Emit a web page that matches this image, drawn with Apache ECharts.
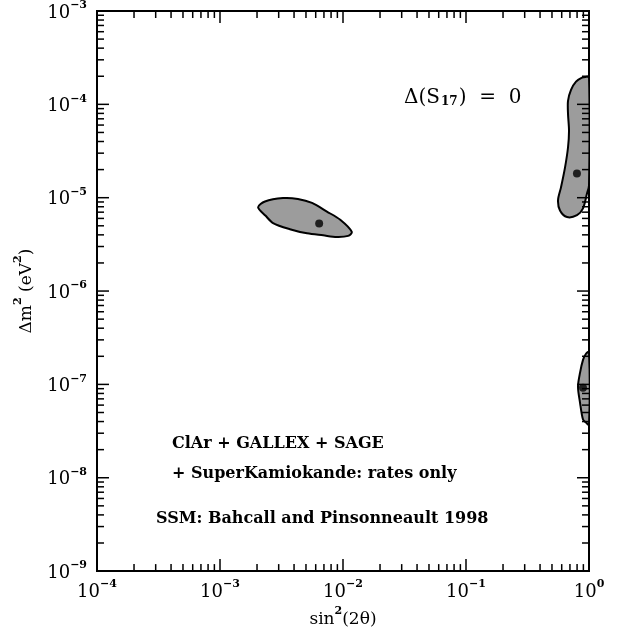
<!DOCTYPE html>
<html>

<head>
    <meta charset="utf-8">
    <title>ECharts</title>
    <script src="https://cdn.jsdelivr.net/npm/echarts@6/dist/echarts.min.js"></script>
</head>

<body style="margin:0;background:#fff">
    <div id="main" style="width: 628px;height:633px;"></div>
    <script type="text/javascript">
        // axis decades
        var xDecades = [1e-4, 1e-3, 1e-2, 1e-1, 1];
        var yDecades = [1e-9, 1e-8, 1e-7, 1e-6, 1e-5, 1e-4, 1e-3];

        // allowed regions, [sin^2(2theta), dm^2]
        var regionMid = [
            [2.04e-3, 7.9e-6], [2.32e-3, 9.1e-6], [3.25e-3, 9.9e-6], [4.3e-3, 9.7e-6],
            [5.6e-3, 8.8e-6], [7.4e-3, 7.1e-6], [9.5e-3, 5.8e-6], [1.18e-2, 4.3e-6],
            [1.10e-2, 3.9e-6], [8.9e-3, 3.8e-6], [6.9e-3, 3.95e-6], [5.1e-3, 4.15e-6],
            [3.7e-3, 4.6e-6], [2.70e-3, 5.35e-6], [2.35e-3, 6.4e-6]
        ];
        var regionTop = [
            [0.945, 1.97e-4], [0.877, 1.93e-4], [0.784, 1.75e-4], [0.714, 1.43e-4],
            [0.675, 1.09e-4], [0.675, 7.9e-5], [0.688, 5.2e-5], [0.675, 3.45e-5],
            [0.638, 2.1e-5], [0.592, 1.29e-5], [0.560, 9.4e-6], [0.581, 7.3e-6],
            [0.663, 6.2e-6], [0.799, 6.5e-6], [0.894, 7.7e-6], [0.963, 1.11e-5],
            [1.0, 1.35e-5], [1.0, 1.97e-4]
        ];
        var regionLow = [
            [1.0, 2.23e-7], [0.945, 2.13e-7], [0.894, 1.83e-7], [0.845, 1.33e-7],
            [0.814, 9.45e-8], [0.845, 6.4e-8], [0.894, 4.2e-8], [0.945, 3.9e-8],
            [1.0, 3.7e-8]
        ];
        // best fit points
        var bestFit = [[6.4e-3, 5.3e-6], [0.798, 1.82e-5], [0.894, 9.2e-8]];

        var FONT = "'DejaVu Serif', serif";
        var X_MIN = 1e-4, X_MAX = 1, Y_MIN = 1e-9, Y_MAX = 1e-3;

        // tick positions 1..9 x each decade
        function minorList(decades) {
            var out = [];
            for (var i = 0; i < decades.length - 1; i++) {
                for (var k = 1; k < 10; k++) out.push(decades[i] * k);
            }
            out.push(decades[decades.length - 1]);
            return out;
        }
        var xTicks = minorList(xDecades).map(function (v) { return [v, Y_MIN]; });
        var yTicks = minorList(yDecades).map(function (v) { return [X_MIN, v]; });

        function isDecade(v) {
            var e = Math.log10(v);
            return Math.abs(e - Math.round(e)) < 1e-6;
        }

        function tickLine(x1, y1, x2, y2) {
            return {
                type: 'line',
                shape: { x1: x1, y1: y1, x2: x2, y2: y2 },
                style: { stroke: '#000', lineWidth: 1.5 }
            };
        }

        function renderXTick(params, api) {
            var v = api.value(0);
            var len = isDecade(v) ? 12 : 7;
            var b = api.coord([v, Y_MIN]);
            var t = api.coord([v, Y_MAX]);
            return {
                type: 'group',
                children: [tickLine(b[0], b[1], b[0], b[1] - len), tickLine(t[0], t[1], t[0], t[1] + len)]
            };
        }

        function renderYTick(params, api) {
            var v = api.value(1);
            var len = isDecade(v) ? 12 : 7;
            var l = api.coord([X_MIN, v]);
            var r = api.coord([X_MAX, v]);
            return {
                type: 'group',
                children: [tickLine(l[0], l[1], l[0] + len, l[1]), tickLine(r[0], r[1], r[0] - len, r[1])]
            };
        }

        function regionSeries(pts) {
            return {
                type: 'custom',
                data: pts,
                clip: true,
                silent: true,
                z: 3,
                renderItem: function (params, api) {
                    if (params.dataIndex !== 0) return;
                    var poly = pts.map(function (p) { return api.coord(p); });
                    return {
                        type: 'polygon',
                        shape: { points: poly, smooth: 0.3 },
                        style: { fill: '#9c9c9c', stroke: '#000', lineWidth: 2 }
                    };
                }
            };
        }

        var powRich = {
            a: { fontFamily: FONT, fontSize: 17, color: '#000', lineHeight: 22, verticalAlign: 'bottom' },
            b: { fontFamily: FONT, fontSize: 18, color: '#000', lineHeight: 22, verticalAlign: 'bottom' },
            s: { fontFamily: FONT, fontSize: 11, fontWeight: 'bold', color: '#000', lineHeight: 12, verticalAlign: 'top' }
        };

        function powLabel(v) {
            var e = Math.round(Math.log10(v));
            return '{b|10}{s|' + (e < 0 ? '\u2212' + (-e) : e) + '}';
        }

        var myChart = echarts.init(document.getElementById('main'));

        myChart.setOption({
            backgroundColor: '#fff',
            animation: false,
            grid: {
                left: 97, top: 10, width: 492, height: 562,
                show: true, borderColor: '#000', borderWidth: 2
            },
            xAxis: {
                type: 'log', logBase: 10, min: X_MIN, max: X_MAX, splitNumber: 4,
                axisLine: { show: false }, axisTick: { show: false }, splitLine: { show: false },
                axisLabel: { margin: 8, formatter: powLabel, rich: powRich },
                name: '{a|sin}{s|2}{a|(2\u03b8)}',
                nameLocation: 'middle', nameGap: 33,
                nameTextStyle: { rich: powRich }
            },
            yAxis: {
                type: 'log', logBase: 10, min: Y_MIN, max: Y_MAX, splitNumber: 6,
                axisLine: { show: false }, axisTick: { show: false }, splitLine: { show: false },
                axisLabel: { margin: 10, formatter: powLabel, rich: powRich },
                name: '{a|\u0394m}{s|2}{a| (eV}{s|2}{a|)}',
                nameLocation: 'middle', nameGap: 62,
                nameTextStyle: { rich: powRich }
            },
            graphic: [
                {
                    type: 'text', left: 404, top: 86,
                    style: {
                        text: '\u0394(S{sub|17})  =  0',
                        font: '20px ' + FONT, fill: '#000',
                        rich: { sub: { fontFamily: FONT, fontWeight: 'bold', fontSize: 12, color: '#000', verticalAlign: 'bottom', lineHeight: 12, padding: [10, 1, 0, 1] } }
                    }
                },
                { type: 'text', left: 172, top: 436, style: { text: 'ClAr + GALLEX + SAGE', font: 'bold 16px ' + FONT, fill: '#000' } },
                { type: 'text', left: 172, top: 466, style: { text: '+ SuperKamiokande: rates only', font: 'bold 16px ' + FONT, fill: '#000' } },
                { type: 'text', left: 156, top: 511, style: { text: 'SSM: Bahcall and Pinsonneault 1998', font: 'bold 16px ' + FONT, fill: '#000' } }
            ],
            series: [
                regionSeries(regionMid),
                regionSeries(regionTop),
                regionSeries(regionLow),
                {
                    type: 'scatter', data: bestFit, symbol: 'circle', symbolSize: 8,
                    itemStyle: { color: '#000' }, z: 4, silent: true
                },
                { type: 'custom', data: xTicks, renderItem: renderXTick, silent: true, z: 5 },
                { type: 'custom', data: yTicks, renderItem: renderYTick, silent: true, z: 5 }
            ]
        });
    </script>
</body>

</html>
